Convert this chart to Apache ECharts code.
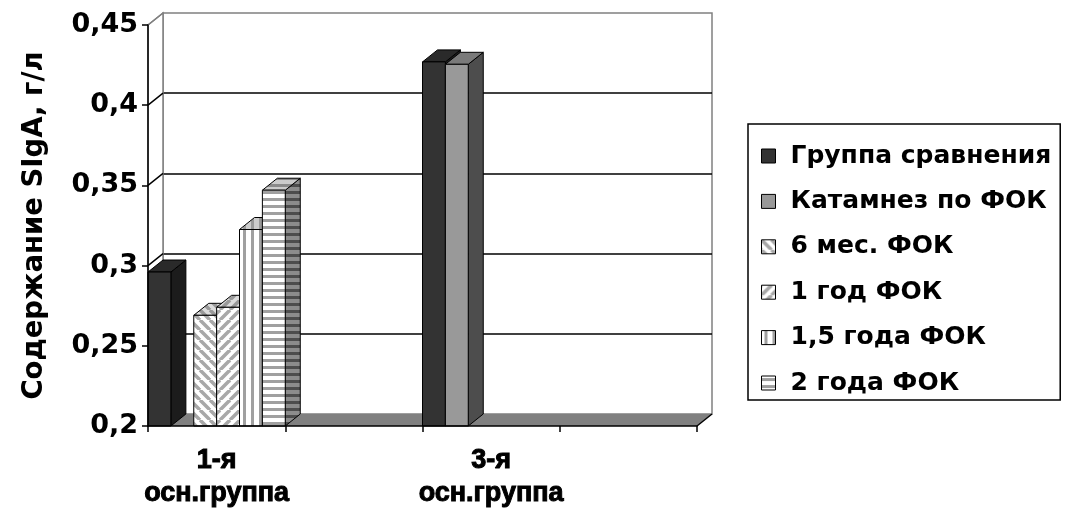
<!DOCTYPE html>
<html><head><meta charset="utf-8">
<script src="https://cdn.jsdelivr.net/npm/echarts@6/dist/echarts.min.js"></script>
<style>html,body{margin:0;padding:0;background:#fff}#c{width:1073px;height:520px}</style>
</head><body><div id="c"></div>
<script>
// ---- data ----
const categories = ['1-я\nосн.группа', '', '3-я\nосн.группа', ''];
const seriesNames = ['Группа сравнения', 'Катамнез по ФОК', '6 мес. ФОК', '1 год ФОК', '1,5 года ФОК', '2 года ФОК'];
const grpSravneniya = [0.296, null, 0.427, null];
const katamnezFOK = [null, null, 0.4255, null];
const mes6FOK = [0.269, null, null, null];
const god1FOK = [0.274, null, null, null];
const god15FOK = [0.3225, null, null, null];
const god2FOK = [0.347, null, null, null];
const yTickLabels = ['0,2', '0,25', '0,3', '0,35', '0,4', '0,45'];
const yTickValues = [0.2, 0.25, 0.3, 0.35, 0.4, 0.45];
const yMin = 0.2, yMax = 0.45, yStep = 0.05;
const allValues = [grpSravneniya, katamnezFOK, mes6FOK, god1FOK, god15FOK, god2FOK];

// ---- styling ----
const DX = 15, DY = -12;
const FONT = 'DejaVu Sans';
const FONT2 = 'Liberation Sans';
function pat(w, h, bg, fg, kind, lw) {
  const c = document.createElement('canvas'); c.width = w; c.height = h;
  const g = c.getContext('2d');
  g.fillStyle = bg; g.fillRect(0, 0, w, h);
  g.strokeStyle = fg; g.fillStyle = fg; g.lineWidth = lw;
  if (kind === 'bs') {
    for (const o of [-w, 0, w]) { g.beginPath(); g.moveTo(o, 0); g.lineTo(o + w, h); g.stroke(); }
  } else if (kind === 'fs') {
    for (const o of [-w, 0, w]) { g.beginPath(); g.moveTo(o, h); g.lineTo(o + w, 0); g.stroke(); }
  } else if (kind === 'v') {
    g.fillRect(Math.round((w - lw) / 2), 0, lw, h);
  } else if (kind === 'h') {
    g.fillRect(0, Math.round((h - lw) / 2), w, lw);
  }
  return { image: c, repeat: 'repeat' };
}
const faceStyles = [
  { front: '#333333', top: '#2a2a2a', side: '#1c1c1c' },
  { front: '#999999', top: '#7a7a7a', side: '#4d4d4d' },
  { front: pat(10, 10, '#ffffff', '#a8a8a8', 'bs', 3.5), top: pat(10, 10, '#dcdcdc', '#999999', 'bs', 3.5), side: pat(10, 10, '#bbbbbb', '#777777', 'bs', 3.5) },
  { front: pat(10, 10, '#ffffff', '#a8a8a8', 'fs', 3.5), top: pat(10, 10, '#dcdcdc', '#999999', 'fs', 3.5), side: pat(10, 10, '#bbbbbb', '#777777', 'fs', 3.5) },
  { front: pat(8, 8, '#ffffff', '#a0a0a0', 'v', 3), top: pat(8, 8, '#cccccc', '#999999', 'v', 3), side: pat(8, 8, '#888888', '#555555', 'v', 3) },
  { front: pat(7, 7, '#ffffff', '#a0a0a0', 'h', 3), top: pat(7, 7, '#cccccc', '#8a8a8a', 'h', 3), side: pat(7, 7, '#8c8c8c', '#4d4d4d', 'h', 3) }
];

function makeBar(k) {
  return function (params, api) {
    const ci = api.value(0), v = api.value(1);
    const bw = api.size([1, 0])[0];
    const c = api.coord([ci, v]);
    const base = api.coord([ci, yMin])[1];
    const w = bw / seriesNames.length;
    const x0 = c[0] - bw / 2 + k * w, x1 = x0 + w, yt = c[1];
    const st = faceStyles[k];
    return { type: 'group', children: [
      { type: 'polygon', shape: { points: [[x1, yt], [x1 + DX, yt + DY], [x1 + DX, base + DY], [x1, base]] }, style: { fill: st.side, stroke: '#000', lineWidth: 1 } },
      { type: 'polygon', shape: { points: [[x0, yt], [x0 + DX, yt + DY], [x1 + DX, yt + DY], [x1, yt]] }, style: { fill: st.top, stroke: '#000', lineWidth: 1 } },
      { type: 'rect', shape: { x: x0, y: yt, width: w, height: base - yt }, style: { fill: st.front, stroke: '#000', lineWidth: 1 } }
    ] };
  };
}

function frameRender(params, api) {
  const cs = params.coordSys;
  const L = cs.x, T = cs.y, R = cs.x + cs.width, B = cs.y + cs.height;
  const ch = [];
  ch.push({ type: 'polygon', shape: { points: [[L, T], [L + DX, T + DY], [L + DX, B + DY], [L, B]] }, style: { fill: '#fff', stroke: '#808080', lineWidth: 1.5 } });
  yTickValues.forEach(function (v, i) {
    if (i === 0) return;
    const y = api.coord([0, v])[1];
    const last = i === yTickValues.length - 1;
    ch.push({ type: 'line', shape: { x1: L, y1: y, x2: L + DX, y2: y + DY }, style: { stroke: last ? '#808080' : '#000', lineWidth: 1.5 } });
  });
  ch.push({ type: 'polygon', shape: { points: [[L, B], [R, B], [R + DX, B + DY], [L + DX, B + DY]] }, style: { fill: '#808080' } });
  ch.push({ type: 'line', shape: { x1: R, y1: B, x2: R + DX, y2: B + DY }, style: { stroke: '#000', lineWidth: 1.5 } });
  return { type: 'group', children: ch };
}

const barSeries = seriesNames.map(function (name, k) {
  const data = [];
  allValues[k].forEach(function (v, ci) { if (v != null) data.push([ci, v]); });
  return {
    type: 'custom', name: name, xAxisIndex: 0, yAxisIndex: 0, z: 3,
    renderItem: makeBar(k), encode: { x: 0, y: 1 }, data: data,
    itemStyle: { color: faceStyles[k].front }
  };
});

const chart = echarts.init(document.getElementById('c'), null, { renderer: 'canvas' });
chart.setOption({
  animation: false,
  backgroundColor: '#fff',
  grid: [
    { left: 148, top: 25, right: 376, bottom: 94, containLabel: false },
    { left: 148 + DX, top: 25 + DY, right: 376 - DX, bottom: 94 - DY, show: true, backgroundColor: '#fff', borderColor: '#808080', borderWidth: 1.5, z: 0 }
  ],
  xAxis: [
    { type: 'category', gridIndex: 0, data: categories, z: 10,
      axisLine: { lineStyle: { color: '#000', width: 1.5 } },
      axisTick: { show: true, length: 6, lineStyle: { color: '#000', width: 1.5 } },
      axisLabel: { interval: 0, color: '#000', fontFamily: FONT2, fontWeight: 'bold', fontSize: 27, lineHeight: 33, margin: 18,
        textBorderColor: '#000', textBorderWidth: 1 } },
    { type: 'value', gridIndex: 1, min: 0, max: 1, show: false }
  ],
  yAxis: [
    { type: 'value', gridIndex: 0, min: yMin, max: yMax, interval: yStep, z: 10,
      axisLine: { show: true, lineStyle: { color: '#000', width: 1.5 } },
      axisTick: { show: true, length: 6, lineStyle: { color: '#000', width: 1.5 } },
      splitLine: { show: false },
      axisLabel: { color: '#000', fontFamily: FONT, fontWeight: 'bold', fontSize: 27, margin: 10,
        formatter: function (v) { const i = Math.round((v - yMin) / yStep); return yTickLabels[i]; } },
      name: 'Содержание SIgA, г/л', nameLocation: 'middle', nameRotate: 90, nameGap: 99,
      nameTextStyle: { color: '#000', fontFamily: FONT, fontWeight: 'bold', fontSize: 27.5 } },
    { type: 'value', gridIndex: 1, min: yMin, max: yMax, interval: yStep,
      axisLine: { show: false }, axisTick: { show: false }, axisLabel: { show: false },
      splitLine: { show: true, showMinLine: false, showMaxLine: false, lineStyle: { color: '#000', width: 1.5 } } }
  ],
  legend: {
    orient: 'vertical', left: 748, top: 124, icon: 'rect', itemWidth: 14, itemHeight: 14, itemGap: 19.4,
    padding: [19, 9, 4, 13], borderColor: '#000', borderWidth: 1.5,
    data: seriesNames,
    itemStyle: { borderColor: '#000', borderWidth: 1 },
    textStyle: { color: '#000', fontFamily: FONT, fontWeight: 'bold', fontSize: 25, lineHeight: 26, padding: [0, 0, 0, 10] }
  },
  series: [
    { type: 'custom', name: 'frame', silent: true, z: 1, xAxisIndex: 0, yAxisIndex: 0, renderItem: frameRender, encode: { x: 0, y: 1 }, data: [[0, yMin]] }
  ].concat(barSeries)
});
</script></body></html>
